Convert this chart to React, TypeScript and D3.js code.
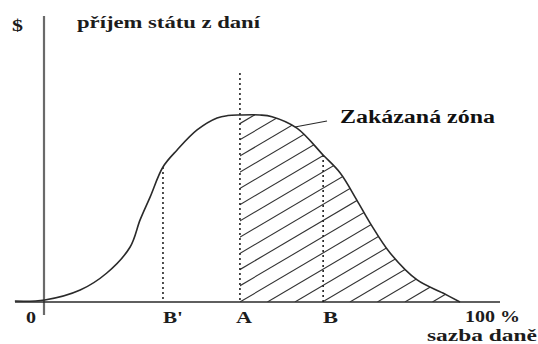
import React from 'react';
import * as d3 from 'd3';

// Lafferova křivka – sazba daně (%) vs. příjem státu (relativní)
const taxRates = [-7, 0.2, 8.7, 15.1, 20.7, 23.1, 25.5, 28.6, 32.0, 36.8, 41.6, 44.2, 47.1, 51.9, 54.8, 60.8, 67.1, 71.2, 75.2, 78.4, 83.2, 89.7, 95.9, 100];
const revenues = [0.5, 1.1, 6.4, 15.5, 29.4, 43.9, 56.1, 72.2, 81.3, 92.0, 98.4, 99.7, 100, 100, 99.1, 93.0, 78.6, 69.0, 54.5, 42.2, 26.2, 11.8, 4.8, 0];

const markerLabels = ["B'", 'A', 'B'];
const markerRates = [28.6, 47.1, 67.1];
const markerTops = [72.2, 122.5, 78.6];

const W = 538;
const H = 344;
const FONT = '"Liberation Serif", "DejaVu Serif", serif';
const INK = '#1c1c1c';

const App = () => {
  const x = d3.scaleLinear().domain([0, 100]).range([44, 460]);
  const y = d3.scaleLinear().domain([0, 100]).range([302, 115]);

  const pts: [number, number][] = taxRates.map((r, i) => [r, revenues[i]]);
  const curve = d3.curveCatmullRom.alpha(0.5);

  const line = d3.line<[number, number]>()
    .x(d => x(d[0]))
    .y(d => y(d[1]))
    .curve(curve);

  const area = d3.area<[number, number]>()
    .x(d => x(d[0]))
    .y0(y(0))
    .y1(d => y(d[1]))
    .curve(curve);

  // šrafování zakázané zóny (od A doprava)
  const xA = x(markerRates[1]);
  const slope = 0.59;
  const step = 27.5;
  const hatch: { x1: number; y1: number; x2: number; y2: number }[] = [];
  for (let k = -14; k < 12; k++) {
    const bx = xA + k * step;
    hatch.push({ x1: bx, y1: y(0), x2: bx + 500, y2: y(0) - 500 * slope });
  }

  // spojnice popisku
  const leaderRate = 60.3;
  const leaderRev = 93.6;

  const labelText = (label: string, i: number) => {
    const widths: Record<string, number> = { "B'": 20, A: 16, B: 15 };
    const dx = label === 'A' ? -4 : 0;
    return (
      <text
        key={label}
        x={x(markerRates[i]) + dx}
        y={323}
        fontFamily={FONT}
        fontWeight="bold"
        fontSize={17}
        fill={INK}
        textLength={widths[label]}
        lengthAdjust="spacingAndGlyphs"
      >
        {label}
      </text>
    );
  };

  return (
    <svg
      width={W}
      height={H}
      viewBox={`0 0 ${W} ${H}`}
      style={{ position: 'absolute', left: 0, top: 0, background: '#fff' }}
    >
      <defs>
        <clipPath id="rightOfA">
          <rect x={xA} y={0} width={W - xA} height={y(0)} />
        </clipPath>
        <clipPath id="underCurve">
          <path d={area(pts) || ''} />
        </clipPath>
      </defs>

      {/* osy */}
      <line x1={44} x2={44} y1={16} y2={315} stroke="#6a6a6a" strokeWidth={2.2} />
      <line x1={15} x2={500} y1={y(0)} y2={y(0)} stroke="#2a2a2a" strokeWidth={1.6} />

      {/* šrafy */}
      <g clipPath="url(#rightOfA)">
        <g clipPath="url(#underCurve)">
          {hatch.map((h, i) => (
            <line key={i} x1={h.x1} y1={h.y1} x2={h.x2} y2={h.y2} stroke="#333" strokeWidth={1.1} />
          ))}
        </g>
      </g>

      {/* tečkované svislice */}
      {markerRates.map((r, i) => (
        <line
          key={markerLabels[i]}
          x1={x(r)}
          x2={x(r)}
          y1={y(markerTops[i])}
          y2={y(0)}
          stroke="#222"
          strokeWidth={1.6}
          strokeDasharray="2,3"
        />
      ))}

      {/* křivka */}
      <path d={line(pts) || ''} fill="none" stroke="#2a2a2a" strokeWidth={1.6} />

      {/* spojnice k popisku */}
      <line x1={x(leaderRate)} y1={y(leaderRev)} x2={327} y2={121} stroke="#2a2a2a" strokeWidth={1.2} />

      {/* texty */}
      <text x={12} y={31} fontFamily={FONT} fontWeight="bold" fontSize={17} fill={INK} textLength={11} lengthAdjust="spacingAndGlyphs">$</text>
      <text x={77} y={28} fontFamily={FONT} fontWeight="bold" fontSize={17} fill={INK} textLength={183} lengthAdjust="spacingAndGlyphs">příjem státu z daní</text>
      <text x={340} y={123} fontFamily={FONT} fontWeight="bold" fontSize={18} fill="#111" textLength={155} lengthAdjust="spacingAndGlyphs">Zakázaná zóna</text>
      <text x={26} y={323} fontFamily={FONT} fontWeight="bold" fontSize={17} fill={INK} textLength={10} lengthAdjust="spacingAndGlyphs">0</text>
      {markerLabels.map((l, i) => labelText(l, i))}
      <text x={465} y={322} fontFamily={FONT} fontWeight="bold" fontSize={17} fill={INK} textLength={55} lengthAdjust="spacingAndGlyphs">100 %</text>
      <text x={427} y={341} fontFamily={FONT} fontWeight="bold" fontSize={17} fill={INK} textLength={110} lengthAdjust="spacingAndGlyphs">sazba daně</text>
    </svg>
  );
};

export default App;
